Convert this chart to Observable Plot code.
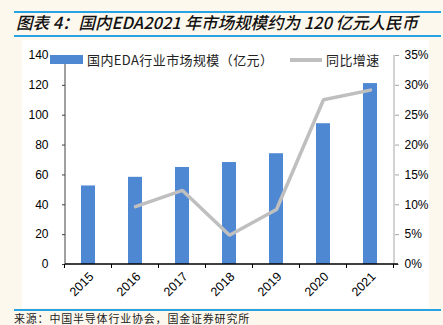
<!DOCTYPE html>
<html>
<head>
<meta charset="utf-8">
<script src="https://cdn.jsdelivr.net/npm/d3@7"></script>
<script src="https://cdn.jsdelivr.net/npm/@observablehq/plot@0.6"></script>
<style>
  html, body { margin: 0; padding: 0; background: #fdf8ed; }
  #page { position: relative; width: 443px; height: 325px; overflow: hidden; background: #fdf8ed; font-family: "Noto Sans CJK SC", sans-serif; }
  .hline { position: absolute; left: 14px; width: 427px; height: 2px; background: #27a3e3; }
  #title { position: absolute; left: 16px; top: 11px; font-size: 16.5px; line-height: 22px; font-style: italic; font-weight: 500; color: #111; white-space: nowrap; }
  #chart { position: absolute; left: 22px; top: 40px; width: 407px; height: 268px; background: #fff; }
  #source { position: absolute; left: 14px; top: 312px; font-size: 11px; line-height: 12px; height: 12px; color: #222; white-space: nowrap; letter-spacing: 0.8px; }
  .leg { position: absolute; font-size: 13px; color: #222; white-space: nowrap; letter-spacing: 0.4px; }
  .sw { position: absolute; }
</style>
</head>
<body>
<div id="page">
  <div class="hline" style="top:11px"></div>
  <div id="title">图表 4：国内EDA2021 年市场规模约为 120 亿元人民币</div>
  <div class="hline" style="top:35px"></div>
  <div id="chart"></div>
  <div class="sw" style="left:50px;top:55px;width:33px;height:9px;background:#4f88d2;"></div>
  <div class="leg" style="left:87px;top:50px;">国内EDA行业市场规模（亿元）</div>
  <div class="sw" style="left:290px;top:58px;width:32px;height:4px;background:#bfbfbf;"></div>
  <div class="leg" style="left:326px;top:50px;">同比增速</div>
  <div class="hline" style="top:309px"></div>
  <div id="source">来源：中国半导体行业协会，国金证券研究所</div>
</div>
<script>
const years = ["2015", "2016", "2017", "2018", "2019", "2020", "2021"];
const marketSize = [52.6, 58.4, 65.0, 68.3, 74.2, 94.3, 121.2];   // 亿元
const growthPct = [null, 9.7, 12.4, 4.9, 9.2, 27.6, 29.2];         // %
const leftTicks = [0, 20, 40, 60, 80, 100, 120, 140];
const rightTicks = [0, 5, 10, 15, 20, 25, 30, 35];

const leftMax = 140, rightMax = 35;
const ratio = leftMax / rightMax;

const bars = years.map((y, i) => ({year: y, value: marketSize[i]}));
const line = years.map((y, i) => ({year: y, g: growthPct[i]}))
  .filter(d => d.g != null)
  .map(d => ({year: d.year, v: d.g * ratio}));

function axesLines(index, scales, values, dimensions) {
  const {x, y} = scales;
  const g = d3.create("svg:g");
  const x0 = dimensions.marginLeft;
  const x1 = dimensions.width - dimensions.marginRight;
  const yb = y(0), yt = y(leftMax);
  g.append("line").attr("x1", x0).attr("x2", x0).attr("y1", yt).attr("y2", yb)
    .attr("stroke", "#404040").attr("stroke-width", 1);
  g.append("line").attr("x1", x1).attr("x2", x1).attr("y1", yt).attr("y2", yb)
    .attr("stroke", "#a6a6a6").attr("stroke-width", 1);
  g.append("line").attr("x1", x0).attr("x2", x1 + 4).attr("y1", yb).attr("y2", yb)
    .attr("stroke", "#000").attr("stroke-width", 1.3);
  const dom = x.domain();
  const step = x(dom[1]) - x(dom[0]);
  const bw = x.bandwidth();
  const bounds = dom.map(d => x(d) - (step - bw) / 2);
  bounds.push(x(dom[dom.length - 1]) + bw + (step - bw) / 2);
  for (const b of bounds) {
    g.append("line").attr("x1", b).attr("x2", b).attr("y1", yb).attr("y2", yb + 4)
      .attr("stroke", "#000").attr("stroke-width", 1);
  }
  return g.node();
}

const chart = Plot.plot({
  width: 407,
  height: 268,
  marginLeft: 43,
  marginRight: 35,
  marginTop: 15,
  marginBottom: 44,
  style: {background: "#fff", fontFamily: "'Liberation Sans', Arial, sans-serif", fontSize: "12px", color: "#000"},
  x: {domain: years, paddingInner: 0.7, paddingOuter: 0.35, label: null},
  y: {domain: [0, leftMax], label: null},
  marks: [
    Plot.barY(bars, {x: "year", y: "value", fill: "#4f88d2"}),
    Plot.line(line, {x: "year", y: "v", stroke: "#bfbfbf", strokeWidth: 3.5, strokeLinejoin: "miter"}),
    Plot.axisY({anchor: "left", ticks: leftTicks, tickSize: 3, tickPadding: 14, stroke: "#404040", fill: "#000", label: null}),
    Plot.axisY({anchor: "right", ticks: rightTicks.map(t => t * ratio), tickFormat: d => (d / ratio) + "%", tickSize: 4, tickPadding: 6, stroke: "#a6a6a6", fill: "#000", label: null}),
    Plot.axisX({tickRotate: -45, tickSize: 0, tickPadding: 10, dx: 3, fontSize: 12.5, fill: "#000", label: null}),
    axesLines
  ]
});
document.getElementById("chart").appendChild(chart);
</script>
</body>
</html>
